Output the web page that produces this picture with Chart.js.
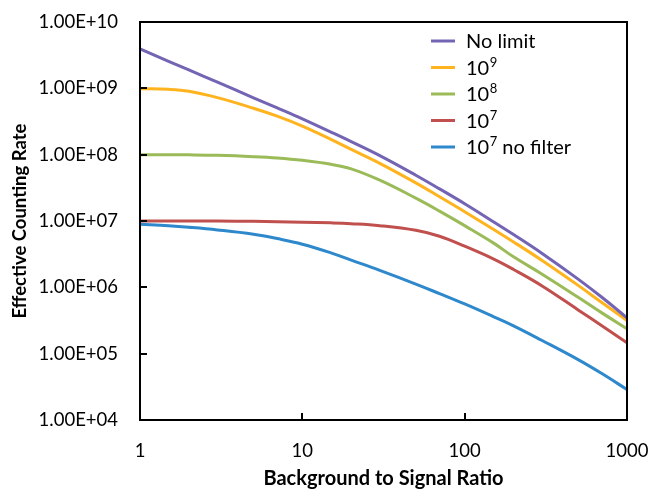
<!DOCTYPE html>
<html>
<head>
<meta charset="utf-8">
<script src="https://cdn.jsdelivr.net/npm/chart.js@4.4.0/dist/chart.umd.min.js"></script>
<style>
  html, body { margin: 0; padding: 0; background: #ffffff; }
  #wrap { width: 650px; height: 489px; position: relative; }
</style>
</head>
<body>
<div id="wrap"><canvas id="c" width="650" height="489"></canvas></div>
<script>
// Background to signal ratio (x values)
const ratios = [1, 1.5, 2, 3, 5, 7, 10, 15, 20, 30, 50, 70, 100, 150, 200, 300, 500, 700, 1000];
// Effective counting rate series
const noLimit = [3.92e9, 2.56e9, 1.89e9, 1.24e9, 7.21e8, 5.07e8, 3.47e8, 2.19e8, 1.57e8, 9.66e7, 4.9e7, 3.05e7, 1.82e7, 9.77e6, 6.24e6, 3.24e6, 1.33e6, 7.08e5, 3.47e5];
const limit1e9 = [9.89e8, 9.66e8, 9.02e8, 7.24e8, 5.01e8, 3.8e8, 2.69e8, 1.7e8, 1.2e8, 7.41e7, 3.76e7, 2.32e7, 1.38e7, 7.5e6, 4.84e6, 2.54e6, 1.07e6, 5.89e5, 3.16e5];
const limit1e8 = [1.0e8, 1.0e8, 9.95e7, 9.77e7, 9.33e7, 8.91e7, 8.22e7, 7.16e7, 6.1e7, 4.12e7, 2.21e7, 1.41e7, 8.51e6, 4.68e6, 2.88e6, 1.58e6, 7.08e5, 4.12e5, 2.37e5];
const limit1e7 = [1.0e7, 1.0e7, 1.0e7, 1.0e7, 9.89e6, 9.77e6, 9.59e6, 9.38e6, 9.12e6, 8.51e6, 7.24e6, 5.89e6, 4.17e6, 2.69e6, 1.86e6, 1.05e6, 4.57e5, 2.63e5, 1.46e5];
const limit1e7NoFilter = [8.91e6, 8.47e6, 8.04e6, 7.33e6, 6.31e6, 5.43e6, 4.47e6, 3.31e6, 2.57e6, 1.8e6, 1.12e6, 8.04e5, 5.62e5, 3.63e5, 2.63e5, 1.58e5, 8.13e4, 5.01e4, 2.88e4];

// Legend labels: [base, superscript, suffix]
const seriesLabels = [["No limit", "", ""], ["10", "9", ""], ["10", "8", ""], ["10", "7", ""], ["10", "7", " no filter"]];
const xTicks = [1, 10, 100, 1000];
const yTicks = [1e4, 1e5, 1e6, 1e7, 1e8, 1e9, 1e10];

const colors = ['#7464B4', '#FFB31F', '#9BBB59', '#C0504D', '#2E88CC'];
const allSeries = [noLimit, limit1e9, limit1e8, limit1e7, limit1e7NoFilter];

function fmtExp(v) {
  const e = Math.round(Math.log10(v));
  const m = v / Math.pow(10, e);
  const es = (e < 10 ? '0' : '') + e;
  return m.toFixed(2) + 'E+' + es;
}

const FONT = 'Lato, "Open Sans", sans-serif';

const boxPlugin = {
  id: 'box',
  afterDatasetsDraw(chart) {
    const { ctx, chartArea: a, scales } = chart;
    ctx.save();
    ctx.strokeStyle = '#000';
    ctx.lineWidth = 2;
    ctx.beginPath();
    xTicks.forEach(v => {
      const px = Math.round(scales.x.getPixelForValue(v));
      ctx.moveTo(px, a.bottom);
      ctx.lineTo(px, a.bottom - 7);
    });
    yTicks.forEach(v => {
      const py = Math.round(scales.y.getPixelForValue(v));
      ctx.moveTo(a.left, py);
      ctx.lineTo(a.left + 7, py);
    });
    ctx.stroke();
    ctx.strokeRect(a.left, a.top, a.right - a.left, a.bottom - a.top);
    ctx.restore();
  },
  afterDraw(chart) {
    const { ctx } = chart;
    ctx.save();
    const x0 = 431, x1 = 455, tx = 466;
    const ys = [41, 67.5, 94, 120.5, 147];
    seriesLabels.forEach((lab, i) => {
      const y = ys[i];
      ctx.strokeStyle = colors[i];
      ctx.lineWidth = 3;
      ctx.beginPath();
      ctx.moveTo(x0, y);
      ctx.lineTo(x1, y);
      ctx.stroke();
      ctx.fillStyle = '#000';
      ctx.textBaseline = 'middle';
      ctx.textAlign = 'left';
      ctx.font = '20px ' + FONT;
      let x = tx;
      ctx.fillText(lab[0], x, y + 1);
      x += ctx.measureText(lab[0]).width;
      if (lab[1]) {
        ctx.font = '13px ' + FONT;
        ctx.fillText(lab[1], x + 0.5, y - 5);
        x += ctx.measureText(lab[1]).width + 0.5;
      }
      if (lab[2]) {
        ctx.font = '20px ' + FONT;
        ctx.fillText(lab[2], x, y + 1);
      }
    });
    ctx.restore();
  }
};

new Chart(document.getElementById('c'), {
  type: 'line',
  data: {
    datasets: allSeries.map((s, i) => ({
      label: seriesLabels[i].join(''),
      data: ratios.map((r, j) => ({ x: r, y: s[j] })),
      borderColor: colors[i],
      backgroundColor: colors[i],
      borderWidth: 3,
      pointRadius: 0,
      tension: 0.4,
      fill: false
    }))
  },
  options: {
    responsive: false,
    animation: false,
    devicePixelRatio: 1,
    layout: { padding: { left: 0, top: 22, right: 23, bottom: 0 } },
    plugins: { legend: { display: false }, tooltip: { enabled: false } },
    scales: {
      x: {
        type: 'logarithmic',
        min: 1, max: 1000,
        grid: { display: false, drawTicks: false },
        border: { display: false },
        afterBuildTicks(scale) { scale.ticks = xTicks.map(v => ({ value: v, major: true })); },
        afterFit(scale) { scale.height = 69; scale.paddingLeft = 0; scale.paddingRight = 0; },
        ticks: {
          color: '#000',
          font: { family: FONT, size: 18.5 },
          padding: 20,
          maxRotation: 0,
          autoSkip: false,
          callback: v => String(v)
        },
        title: {
          display: true,
          text: 'Background to Signal Ratio',
          color: '#000',
          font: { family: FONT, size: 20, weight: 'bold', lineHeight: 1 },
          padding: { top: 0, bottom: 0 }
        }
      },
      y: {
        type: 'logarithmic',
        min: 1e4, max: 1e10,
        grid: { display: false, drawTicks: false },
        border: { display: false },
        afterBuildTicks(scale) { scale.ticks = yTicks.map(v => ({ value: v, major: true })); },
        afterFit(scale) { scale.width = 140; scale.paddingTop = 0; scale.paddingBottom = 0; },
        ticks: {
          color: '#000',
          font: { family: FONT, size: 18.5 },
          padding: 22,
          autoSkip: false,
          callback: v => fmtExp(v)
        },
        title: {
          display: true,
          text: 'Effective Counting Rate',
          color: '#000',
          font: { family: FONT, size: 18.5, weight: 'bold' },
          padding: { top: 9, bottom: 0 }
        }
      }
    }
  },
  plugins: [boxPlugin]
});
</script>
</body>
</html>
